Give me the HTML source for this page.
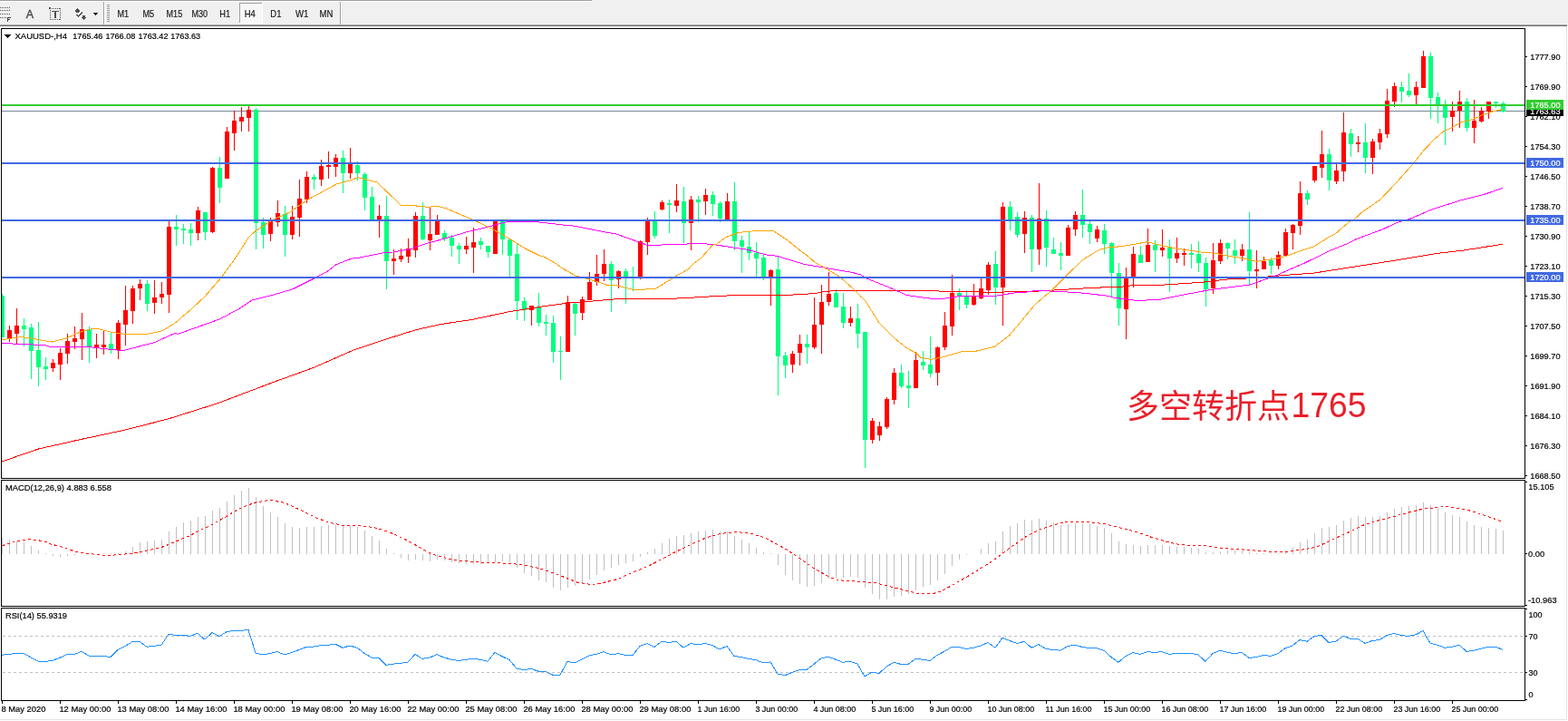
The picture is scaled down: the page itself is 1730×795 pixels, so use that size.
<!DOCTYPE html>
<html><head><meta charset="utf-8"><title>XAUUSD H4</title>
<style>
html,body{margin:0;padding:0;background:#fff;}
body{width:1730px;height:795px;overflow:hidden;}
svg{display:block;}
</style></head>
<body>
<svg width="1730" height="795" viewBox="0 0 1730 795" shape-rendering="crispEdges" font-family="'Liberation Sans', Arial, sans-serif" font-size="9.8" stroke-width="0.2">
<rect x="0" y="0" width="1730" height="795" fill="#ffffff"/>
<rect x="0" y="0" width="1730" height="27" fill="#f0f0f0"/>
<rect x="0" y="0" width="653" height="1" fill="#a0a0a0"/>
<rect x="0" y="1" width="653" height="1" fill="#ffffff"/>
<rect x="0" y="27" width="1729" height="1" fill="#a9a9a9"/>
<rect x="0" y="28" width="1729" height="1" fill="#6e6e6e"/>
<rect x="1729" y="27" width="1" height="2" fill="#f0f0f0"/>
<rect x="1728" y="29" width="1" height="765" fill="#e3e3e3"/>
<rect x="0" y="793" width="1729" height="1" fill="#e3e3e3"/>
<rect x="114" y="2" width="1" height="25" fill="#a0a0a0"/>
<rect x="115" y="2" width="1" height="25" fill="#ffffff"/>
<rect x="375" y="2" width="1" height="25" fill="#a0a0a0"/>
<rect x="376" y="2" width="1" height="25" fill="#ffffff"/>
<rect x="118" y="5" width="3" height="1" fill="#9a9a9a"/>
<rect x="118" y="7" width="3" height="1" fill="#9a9a9a"/>
<rect x="118" y="9" width="3" height="1" fill="#9a9a9a"/>
<rect x="118" y="11" width="3" height="1" fill="#9a9a9a"/>
<rect x="118" y="13" width="3" height="1" fill="#9a9a9a"/>
<rect x="118" y="15" width="3" height="1" fill="#9a9a9a"/>
<rect x="118" y="17" width="3" height="1" fill="#9a9a9a"/>
<rect x="118" y="19" width="3" height="1" fill="#9a9a9a"/>
<rect x="118" y="21" width="3" height="1" fill="#9a9a9a"/>
<rect x="118" y="23" width="3" height="1" fill="#9a9a9a"/>
<rect x="0" y="8" width="1" height="1" fill="#505050"/>
<rect x="2" y="8" width="1" height="1" fill="#505050"/>
<rect x="4" y="8" width="1" height="1" fill="#505050"/>
<rect x="6" y="8" width="1" height="1" fill="#505050"/>
<rect x="8" y="8" width="1" height="1" fill="#505050"/>
<rect x="10" y="8" width="1" height="1" fill="#505050"/>
<rect x="0" y="11" width="1" height="1" fill="#505050"/>
<rect x="2" y="11" width="1" height="1" fill="#505050"/>
<rect x="4" y="11" width="1" height="1" fill="#505050"/>
<rect x="6" y="11" width="1" height="1" fill="#505050"/>
<rect x="8" y="11" width="1" height="1" fill="#505050"/>
<rect x="10" y="11" width="1" height="1" fill="#505050"/>
<rect x="0" y="15" width="1" height="1" fill="#505050"/>
<rect x="2" y="15" width="1" height="1" fill="#505050"/>
<rect x="4" y="15" width="1" height="1" fill="#505050"/>
<rect x="6" y="15" width="1" height="1" fill="#505050"/>
<rect x="8" y="15" width="1" height="1" fill="#505050"/>
<rect x="10" y="15" width="1" height="1" fill="#505050"/>
<rect x="0" y="19" width="1" height="1" fill="#505050"/>
<rect x="2" y="19" width="1" height="1" fill="#505050"/>
<rect x="4" y="19" width="1" height="1" fill="#505050"/>
<rect x="6" y="19" width="1" height="1" fill="#505050"/>
<rect x="8" y="19" width="1" height="1" fill="#505050"/>
<rect x="10" y="19" width="1" height="1" fill="#505050"/>
<path d="M8 19.3 H12 V20.3 H9.2 V21.4 H11.3 V22.3 H9.2 V24 H8 Z" fill="#404040"/>
<text x="28.8" y="20" font-size="12.5" fill="#505050" stroke="#505050" stroke-width="0.45">A</text>
<rect x="55" y="9" width="1" height="1" fill="#505050"/>
<rect x="55" y="21" width="1" height="1" fill="#505050"/>
<rect x="57" y="9" width="1" height="1" fill="#505050"/>
<rect x="57" y="21" width="1" height="1" fill="#505050"/>
<rect x="59" y="9" width="1" height="1" fill="#505050"/>
<rect x="59" y="21" width="1" height="1" fill="#505050"/>
<rect x="61" y="9" width="1" height="1" fill="#505050"/>
<rect x="61" y="21" width="1" height="1" fill="#505050"/>
<rect x="63" y="9" width="1" height="1" fill="#505050"/>
<rect x="63" y="21" width="1" height="1" fill="#505050"/>
<rect x="65" y="9" width="1" height="1" fill="#505050"/>
<rect x="65" y="21" width="1" height="1" fill="#505050"/>
<rect x="55" y="9" width="1" height="1" fill="#505050"/>
<rect x="66" y="9" width="1" height="1" fill="#505050"/>
<rect x="55" y="11" width="1" height="1" fill="#505050"/>
<rect x="66" y="11" width="1" height="1" fill="#505050"/>
<rect x="55" y="13" width="1" height="1" fill="#505050"/>
<rect x="66" y="13" width="1" height="1" fill="#505050"/>
<rect x="55" y="15" width="1" height="1" fill="#505050"/>
<rect x="66" y="15" width="1" height="1" fill="#505050"/>
<rect x="55" y="17" width="1" height="1" fill="#505050"/>
<rect x="66" y="17" width="1" height="1" fill="#505050"/>
<rect x="55" y="19" width="1" height="1" fill="#505050"/>
<rect x="66" y="19" width="1" height="1" fill="#505050"/>
<rect x="55" y="21" width="1" height="1" fill="#505050"/>
<rect x="66" y="21" width="1" height="1" fill="#505050"/>
<rect x="54" y="8" width="2" height="2" fill="#505050"/>
<rect x="57" y="12" width="8" height="1.2" fill="#505050"/>
<rect x="60" y="12" width="2" height="8" fill="#505050"/>
<path d="M82.2 13 L85.5 9 L88.8 13 L87 13 L87 14 L84 14 L84 13 Z" fill="#505050"/>
<path d="M89.3 18.5 L91 18.5 L91 17.3 L94 17.3 L94 18.5 L95.8 18.5 L92.5 22 Z" fill="#505050"/>
<path d="M84.5 16 L86.5 18.5 L91 13.5" stroke="#505050" stroke-width="1.3" fill="none"/>
<path d="M103 14 L108.5 14 L105.75 17 Z" fill="#202020"/>
<rect x="265" y="4" width="24" height="21" fill="#f7f7f7"/>
<rect x="264" y="3" width="25" height="1" fill="#a0a0a0"/>
<rect x="264" y="3" width="1" height="22" fill="#a0a0a0"/>
<rect x="264" y="25" width="26" height="1" fill="#ffffff"/>
<rect x="289" y="3" width="1" height="23" fill="#ffffff"/>
<text x="129.5" y="19" textLength="12.7" lengthAdjust="spacingAndGlyphs" font-size="10.5" fill="#1a1a1a" stroke="#1a1a1a">M1</text>
<text x="157.5" y="19" textLength="12.7" lengthAdjust="spacingAndGlyphs" font-size="10.5" fill="#1a1a1a" stroke="#1a1a1a">M5</text>
<text x="183.5" y="19" textLength="17.7" lengthAdjust="spacingAndGlyphs" font-size="10.5" fill="#1a1a1a" stroke="#1a1a1a">M15</text>
<text x="211.5" y="19" textLength="17.6" lengthAdjust="spacingAndGlyphs" font-size="10.5" fill="#1a1a1a" stroke="#1a1a1a">M30</text>
<text x="242.3" y="19" textLength="11.8" lengthAdjust="spacingAndGlyphs" font-size="10.5" fill="#1a1a1a" stroke="#1a1a1a">H1</text>
<text x="269.7" y="19" textLength="12.1" lengthAdjust="spacingAndGlyphs" font-size="10.5" fill="#1a1a1a" stroke="#1a1a1a">H4</text>
<text x="298.3" y="19" textLength="12.1" lengthAdjust="spacingAndGlyphs" font-size="10.5" fill="#1a1a1a" stroke="#1a1a1a">D1</text>
<text x="326" y="19" textLength="14.5" lengthAdjust="spacingAndGlyphs" font-size="10.5" fill="#1a1a1a" stroke="#1a1a1a">W1</text>
<text x="352.6" y="19" textLength="14.8" lengthAdjust="spacingAndGlyphs" font-size="10.5" fill="#1a1a1a" stroke="#1a1a1a">MN</text>
<svg x="2" y="32" width="1680" height="495" viewBox="2 32 1680 495" overflow="hidden">
<rect x="2" y="122" width="1680" height="1" fill="#778899"/>
<rect x="2" y="324" width="1" height="48" fill="#00ff7f"/>
<rect x="0" y="326" width="5" height="46" fill="#00ff7f"/>
<rect x="10" y="359" width="1" height="18" fill="#ff0000"/>
<rect x="8" y="364" width="5" height="9" fill="#ff0000"/>
<rect x="18" y="340" width="1" height="40" fill="#ff0000"/>
<rect x="16" y="359" width="5" height="9" fill="#ff0000"/>
<rect x="26" y="351" width="1" height="31" fill="#00ff7f"/>
<rect x="24" y="359" width="5" height="4" fill="#00ff7f"/>
<rect x="34" y="357" width="1" height="61" fill="#00ff7f"/>
<rect x="32" y="361" width="5" height="26" fill="#00ff7f"/>
<rect x="42" y="355" width="1" height="71" fill="#00ff7f"/>
<rect x="40" y="386" width="5" height="19" fill="#00ff7f"/>
<rect x="50" y="394" width="1" height="25" fill="#00ff7f"/>
<rect x="48" y="404" width="5" height="3" fill="#00ff7f"/>
<rect x="58" y="396" width="1" height="14" fill="#ff0000"/>
<rect x="56" y="400" width="5" height="6" fill="#ff0000"/>
<rect x="66" y="384" width="1" height="35" fill="#ff0000"/>
<rect x="64" y="389" width="5" height="13" fill="#ff0000"/>
<rect x="74" y="368" width="1" height="33" fill="#ff0000"/>
<rect x="72" y="376" width="5" height="14" fill="#ff0000"/>
<rect x="82" y="360" width="1" height="25" fill="#ff0000"/>
<rect x="80" y="373" width="5" height="4" fill="#ff0000"/>
<rect x="90" y="345" width="1" height="52" fill="#ff0000"/>
<rect x="88" y="363" width="5" height="11" fill="#ff0000"/>
<rect x="98" y="360" width="1" height="40" fill="#00ff7f"/>
<rect x="96" y="363" width="5" height="19" fill="#00ff7f"/>
<rect x="106" y="368" width="1" height="27" fill="#ff0000"/>
<rect x="104" y="380" width="5" height="3" fill="#ff0000"/>
<rect x="114" y="364" width="1" height="27" fill="#ff0000"/>
<rect x="112" y="380" width="5" height="3" fill="#ff0000"/>
<rect x="122" y="367" width="1" height="23" fill="#00ff7f"/>
<rect x="120" y="379" width="5" height="6" fill="#00ff7f"/>
<rect x="130" y="353" width="1" height="43" fill="#ff0000"/>
<rect x="128" y="356" width="5" height="30" fill="#ff0000"/>
<rect x="138" y="315" width="1" height="66" fill="#ff0000"/>
<rect x="136" y="342" width="5" height="16" fill="#ff0000"/>
<rect x="146" y="315" width="1" height="42" fill="#ff0000"/>
<rect x="144" y="318" width="5" height="25" fill="#ff0000"/>
<rect x="154" y="308" width="1" height="23" fill="#ff0000"/>
<rect x="152" y="313" width="5" height="5" fill="#ff0000"/>
<rect x="162" y="309" width="1" height="34" fill="#00ff7f"/>
<rect x="160" y="313" width="5" height="22" fill="#00ff7f"/>
<rect x="170" y="309" width="1" height="37" fill="#ff0000"/>
<rect x="168" y="328" width="5" height="6" fill="#ff0000"/>
<rect x="178" y="311" width="1" height="24" fill="#ff0000"/>
<rect x="176" y="324" width="5" height="4" fill="#ff0000"/>
<rect x="186" y="244" width="1" height="101" fill="#ff0000"/>
<rect x="184" y="250" width="5" height="75" fill="#ff0000"/>
<rect x="194" y="237" width="1" height="34" fill="#00ff7f"/>
<rect x="192" y="250" width="5" height="3" fill="#00ff7f"/>
<rect x="202" y="247" width="1" height="22" fill="#00ff7f"/>
<rect x="200" y="252" width="5" height="2" fill="#00ff7f"/>
<rect x="210" y="246" width="1" height="25" fill="#00ff7f"/>
<rect x="208" y="253" width="5" height="4" fill="#00ff7f"/>
<rect x="218" y="228" width="1" height="37" fill="#ff0000"/>
<rect x="216" y="232" width="5" height="25" fill="#ff0000"/>
<rect x="226" y="234" width="1" height="31" fill="#00ff7f"/>
<rect x="224" y="234" width="5" height="22" fill="#00ff7f"/>
<rect x="234" y="184" width="1" height="73" fill="#ff0000"/>
<rect x="232" y="185" width="5" height="71" fill="#ff0000"/>
<rect x="242" y="173" width="1" height="51" fill="#00ff7f"/>
<rect x="240" y="185" width="5" height="22" fill="#00ff7f"/>
<rect x="250" y="140" width="1" height="57" fill="#ff0000"/>
<rect x="248" y="145" width="5" height="52" fill="#ff0000"/>
<rect x="258" y="122" width="1" height="44" fill="#ff0000"/>
<rect x="256" y="133" width="5" height="14" fill="#ff0000"/>
<rect x="266" y="118" width="1" height="27" fill="#ff0000"/>
<rect x="264" y="129" width="5" height="5" fill="#ff0000"/>
<rect x="274" y="117" width="1" height="28" fill="#ff0000"/>
<rect x="272" y="121" width="5" height="9" fill="#ff0000"/>
<rect x="282" y="119" width="1" height="156" fill="#00ff7f"/>
<rect x="280" y="121" width="5" height="125" fill="#00ff7f"/>
<rect x="290" y="240" width="1" height="34" fill="#00ff7f"/>
<rect x="288" y="245" width="5" height="14" fill="#00ff7f"/>
<rect x="298" y="240" width="1" height="26" fill="#ff0000"/>
<rect x="296" y="244" width="5" height="14" fill="#ff0000"/>
<rect x="306" y="221" width="1" height="29" fill="#ff0000"/>
<rect x="304" y="235" width="5" height="10" fill="#ff0000"/>
<rect x="314" y="227" width="1" height="56" fill="#00ff7f"/>
<rect x="312" y="236" width="5" height="23" fill="#00ff7f"/>
<rect x="322" y="227" width="1" height="37" fill="#ff0000"/>
<rect x="320" y="239" width="5" height="20" fill="#ff0000"/>
<rect x="330" y="198" width="1" height="63" fill="#ff0000"/>
<rect x="328" y="219" width="5" height="21" fill="#ff0000"/>
<rect x="338" y="189" width="1" height="35" fill="#ff0000"/>
<rect x="336" y="195" width="5" height="25" fill="#ff0000"/>
<rect x="346" y="192" width="1" height="17" fill="#00ff7f"/>
<rect x="344" y="195" width="5" height="3" fill="#00ff7f"/>
<rect x="354" y="176" width="1" height="29" fill="#ff0000"/>
<rect x="352" y="183" width="5" height="15" fill="#ff0000"/>
<rect x="362" y="167" width="1" height="30" fill="#ff0000"/>
<rect x="360" y="182" width="5" height="2" fill="#ff0000"/>
<rect x="370" y="170" width="1" height="25" fill="#ff0000"/>
<rect x="368" y="174" width="5" height="10" fill="#ff0000"/>
<rect x="378" y="166" width="1" height="47" fill="#00ff7f"/>
<rect x="376" y="174" width="5" height="17" fill="#00ff7f"/>
<rect x="386" y="163" width="1" height="34" fill="#ff0000"/>
<rect x="384" y="181" width="5" height="10" fill="#ff0000"/>
<rect x="394" y="178" width="1" height="21" fill="#00ff7f"/>
<rect x="392" y="182" width="5" height="9" fill="#00ff7f"/>
<rect x="402" y="190" width="1" height="42" fill="#00ff7f"/>
<rect x="400" y="192" width="5" height="26" fill="#00ff7f"/>
<rect x="410" y="206" width="1" height="36" fill="#00ff7f"/>
<rect x="408" y="217" width="5" height="25" fill="#00ff7f"/>
<rect x="418" y="226" width="1" height="36" fill="#ff0000"/>
<rect x="416" y="238" width="5" height="4" fill="#ff0000"/>
<rect x="426" y="216" width="1" height="103" fill="#00ff7f"/>
<rect x="424" y="238" width="5" height="50" fill="#00ff7f"/>
<rect x="434" y="275" width="1" height="28" fill="#ff0000"/>
<rect x="432" y="285" width="5" height="3" fill="#ff0000"/>
<rect x="442" y="274" width="1" height="15" fill="#ff0000"/>
<rect x="440" y="282" width="5" height="4" fill="#ff0000"/>
<rect x="450" y="263" width="1" height="27" fill="#ff0000"/>
<rect x="448" y="274" width="5" height="9" fill="#ff0000"/>
<rect x="458" y="234" width="1" height="50" fill="#ff0000"/>
<rect x="456" y="238" width="5" height="38" fill="#ff0000"/>
<rect x="466" y="223" width="1" height="42" fill="#00ff7f"/>
<rect x="464" y="238" width="5" height="26" fill="#00ff7f"/>
<rect x="474" y="229" width="1" height="47" fill="#ff0000"/>
<rect x="472" y="258" width="5" height="7" fill="#ff0000"/>
<rect x="482" y="237" width="1" height="22" fill="#ff0000"/>
<rect x="480" y="244" width="5" height="15" fill="#ff0000"/>
<rect x="490" y="254" width="1" height="12" fill="#00ff7f"/>
<rect x="488" y="257" width="5" height="6" fill="#00ff7f"/>
<rect x="498" y="259" width="1" height="24" fill="#00ff7f"/>
<rect x="496" y="262" width="5" height="9" fill="#00ff7f"/>
<rect x="506" y="268" width="1" height="23" fill="#00ff7f"/>
<rect x="504" y="271" width="5" height="4" fill="#00ff7f"/>
<rect x="514" y="261" width="1" height="19" fill="#ff0000"/>
<rect x="512" y="271" width="5" height="4" fill="#ff0000"/>
<rect x="522" y="251" width="1" height="50" fill="#ff0000"/>
<rect x="520" y="267" width="5" height="6" fill="#ff0000"/>
<rect x="530" y="262" width="1" height="13" fill="#00ff7f"/>
<rect x="528" y="266" width="5" height="4" fill="#00ff7f"/>
<rect x="538" y="271" width="1" height="13" fill="#00ff7f"/>
<rect x="536" y="271" width="5" height="7" fill="#00ff7f"/>
<rect x="546" y="243" width="1" height="37" fill="#ff0000"/>
<rect x="544" y="243" width="5" height="37" fill="#ff0000"/>
<rect x="554" y="243" width="1" height="38" fill="#00ff7f"/>
<rect x="552" y="243" width="5" height="21" fill="#00ff7f"/>
<rect x="562" y="263" width="1" height="42" fill="#00ff7f"/>
<rect x="560" y="264" width="5" height="18" fill="#00ff7f"/>
<rect x="570" y="268" width="1" height="85" fill="#00ff7f"/>
<rect x="568" y="280" width="5" height="52" fill="#00ff7f"/>
<rect x="578" y="328" width="1" height="26" fill="#00ff7f"/>
<rect x="576" y="332" width="5" height="10" fill="#00ff7f"/>
<rect x="586" y="337" width="1" height="22" fill="#ff0000"/>
<rect x="584" y="337" width="5" height="5" fill="#ff0000"/>
<rect x="594" y="323" width="1" height="37" fill="#00ff7f"/>
<rect x="592" y="338" width="5" height="18" fill="#00ff7f"/>
<rect x="602" y="347" width="1" height="23" fill="#00ff7f"/>
<rect x="600" y="355" width="5" height="2" fill="#00ff7f"/>
<rect x="610" y="348" width="1" height="52" fill="#00ff7f"/>
<rect x="608" y="356" width="5" height="32" fill="#00ff7f"/>
<rect x="618" y="371" width="1" height="48" fill="#00ff7f"/>
<rect x="616" y="387" width="5" height="1" fill="#00ff7f"/>
<rect x="626" y="326" width="1" height="62" fill="#ff0000"/>
<rect x="624" y="333" width="5" height="55" fill="#ff0000"/>
<rect x="634" y="333" width="1" height="37" fill="#00ff7f"/>
<rect x="632" y="335" width="5" height="11" fill="#00ff7f"/>
<rect x="642" y="327" width="1" height="26" fill="#ff0000"/>
<rect x="640" y="330" width="5" height="15" fill="#ff0000"/>
<rect x="650" y="300" width="1" height="31" fill="#ff0000"/>
<rect x="648" y="311" width="5" height="20" fill="#ff0000"/>
<rect x="658" y="281" width="1" height="34" fill="#ff0000"/>
<rect x="656" y="302" width="5" height="9" fill="#ff0000"/>
<rect x="666" y="275" width="1" height="35" fill="#ff0000"/>
<rect x="664" y="291" width="5" height="11" fill="#ff0000"/>
<rect x="674" y="288" width="1" height="56" fill="#00ff7f"/>
<rect x="672" y="291" width="5" height="18" fill="#00ff7f"/>
<rect x="682" y="298" width="1" height="20" fill="#ff0000"/>
<rect x="680" y="299" width="5" height="9" fill="#ff0000"/>
<rect x="690" y="296" width="1" height="39" fill="#00ff7f"/>
<rect x="688" y="299" width="5" height="6" fill="#00ff7f"/>
<rect x="698" y="294" width="1" height="27" fill="#00ff7f"/>
<rect x="696" y="305" width="5" height="1" fill="#00ff7f"/>
<rect x="706" y="265" width="1" height="43" fill="#ff0000"/>
<rect x="704" y="266" width="5" height="40" fill="#ff0000"/>
<rect x="714" y="240" width="1" height="41" fill="#ff0000"/>
<rect x="712" y="243" width="5" height="24" fill="#ff0000"/>
<rect x="722" y="233" width="1" height="30" fill="#00ff7f"/>
<rect x="720" y="243" width="5" height="17" fill="#00ff7f"/>
<rect x="730" y="221" width="1" height="11" fill="#ff0000"/>
<rect x="728" y="223" width="5" height="8" fill="#ff0000"/>
<rect x="738" y="220" width="1" height="37" fill="#00ff7f"/>
<rect x="736" y="224" width="5" height="2" fill="#00ff7f"/>
<rect x="746" y="203" width="1" height="31" fill="#ff0000"/>
<rect x="744" y="221" width="5" height="6" fill="#ff0000"/>
<rect x="754" y="206" width="1" height="62" fill="#00ff7f"/>
<rect x="752" y="222" width="5" height="24" fill="#00ff7f"/>
<rect x="762" y="216" width="1" height="60" fill="#ff0000"/>
<rect x="760" y="220" width="5" height="26" fill="#ff0000"/>
<rect x="770" y="216" width="1" height="29" fill="#00ff7f"/>
<rect x="768" y="220" width="5" height="3" fill="#00ff7f"/>
<rect x="778" y="208" width="1" height="29" fill="#ff0000"/>
<rect x="776" y="215" width="5" height="7" fill="#ff0000"/>
<rect x="786" y="211" width="1" height="27" fill="#00ff7f"/>
<rect x="784" y="215" width="5" height="10" fill="#00ff7f"/>
<rect x="794" y="222" width="1" height="23" fill="#00ff7f"/>
<rect x="792" y="224" width="5" height="17" fill="#00ff7f"/>
<rect x="802" y="213" width="1" height="29" fill="#ff0000"/>
<rect x="800" y="222" width="5" height="20" fill="#ff0000"/>
<rect x="810" y="201" width="1" height="75" fill="#00ff7f"/>
<rect x="808" y="222" width="5" height="44" fill="#00ff7f"/>
<rect x="818" y="260" width="1" height="41" fill="#00ff7f"/>
<rect x="816" y="265" width="5" height="7" fill="#00ff7f"/>
<rect x="826" y="256" width="1" height="31" fill="#00ff7f"/>
<rect x="824" y="272" width="5" height="7" fill="#00ff7f"/>
<rect x="834" y="267" width="1" height="38" fill="#00ff7f"/>
<rect x="832" y="279" width="5" height="6" fill="#00ff7f"/>
<rect x="842" y="280" width="1" height="29" fill="#00ff7f"/>
<rect x="840" y="284" width="5" height="21" fill="#00ff7f"/>
<rect x="850" y="297" width="1" height="40" fill="#ff0000"/>
<rect x="848" y="298" width="5" height="7" fill="#ff0000"/>
<rect x="858" y="282" width="1" height="154" fill="#00ff7f"/>
<rect x="856" y="297" width="5" height="96" fill="#00ff7f"/>
<rect x="866" y="388" width="1" height="29" fill="#00ff7f"/>
<rect x="864" y="392" width="5" height="11" fill="#00ff7f"/>
<rect x="874" y="387" width="1" height="24" fill="#ff0000"/>
<rect x="872" y="390" width="5" height="12" fill="#ff0000"/>
<rect x="882" y="369" width="1" height="34" fill="#ff0000"/>
<rect x="880" y="379" width="5" height="10" fill="#ff0000"/>
<rect x="890" y="369" width="1" height="32" fill="#00ff7f"/>
<rect x="888" y="379" width="5" height="4" fill="#00ff7f"/>
<rect x="898" y="328" width="1" height="57" fill="#ff0000"/>
<rect x="896" y="358" width="5" height="25" fill="#ff0000"/>
<rect x="906" y="314" width="1" height="76" fill="#ff0000"/>
<rect x="904" y="333" width="5" height="25" fill="#ff0000"/>
<rect x="914" y="300" width="1" height="37" fill="#ff0000"/>
<rect x="912" y="324" width="5" height="9" fill="#ff0000"/>
<rect x="922" y="319" width="1" height="20" fill="#00ff7f"/>
<rect x="920" y="323" width="5" height="16" fill="#00ff7f"/>
<rect x="930" y="323" width="1" height="39" fill="#00ff7f"/>
<rect x="928" y="338" width="5" height="18" fill="#00ff7f"/>
<rect x="938" y="338" width="1" height="22" fill="#ff0000"/>
<rect x="936" y="351" width="5" height="5" fill="#ff0000"/>
<rect x="946" y="335" width="1" height="49" fill="#00ff7f"/>
<rect x="944" y="351" width="5" height="17" fill="#00ff7f"/>
<rect x="954" y="366" width="1" height="150" fill="#00ff7f"/>
<rect x="952" y="366" width="5" height="119" fill="#00ff7f"/>
<rect x="962" y="461" width="1" height="28" fill="#ff0000"/>
<rect x="960" y="464" width="5" height="21" fill="#ff0000"/>
<rect x="970" y="465" width="1" height="21" fill="#ff0000"/>
<rect x="968" y="470" width="5" height="10" fill="#ff0000"/>
<rect x="978" y="438" width="1" height="35" fill="#ff0000"/>
<rect x="976" y="440" width="5" height="31" fill="#ff0000"/>
<rect x="986" y="406" width="1" height="40" fill="#ff0000"/>
<rect x="984" y="411" width="5" height="30" fill="#ff0000"/>
<rect x="994" y="402" width="1" height="26" fill="#00ff7f"/>
<rect x="992" y="411" width="5" height="15" fill="#00ff7f"/>
<rect x="1002" y="409" width="1" height="41" fill="#00ff7f"/>
<rect x="1000" y="425" width="5" height="3" fill="#00ff7f"/>
<rect x="1010" y="388" width="1" height="40" fill="#ff0000"/>
<rect x="1008" y="397" width="5" height="31" fill="#ff0000"/>
<rect x="1018" y="387" width="1" height="21" fill="#00ff7f"/>
<rect x="1016" y="399" width="5" height="4" fill="#00ff7f"/>
<rect x="1026" y="371" width="1" height="45" fill="#00ff7f"/>
<rect x="1024" y="402" width="5" height="10" fill="#00ff7f"/>
<rect x="1034" y="382" width="1" height="43" fill="#ff0000"/>
<rect x="1032" y="383" width="5" height="28" fill="#ff0000"/>
<rect x="1042" y="344" width="1" height="42" fill="#ff0000"/>
<rect x="1040" y="359" width="5" height="24" fill="#ff0000"/>
<rect x="1050" y="303" width="1" height="67" fill="#ff0000"/>
<rect x="1048" y="323" width="5" height="37" fill="#ff0000"/>
<rect x="1058" y="318" width="1" height="24" fill="#00ff7f"/>
<rect x="1056" y="323" width="5" height="4" fill="#00ff7f"/>
<rect x="1066" y="320" width="1" height="20" fill="#00ff7f"/>
<rect x="1064" y="327" width="5" height="9" fill="#00ff7f"/>
<rect x="1074" y="313" width="1" height="24" fill="#ff0000"/>
<rect x="1072" y="327" width="5" height="9" fill="#ff0000"/>
<rect x="1082" y="307" width="1" height="23" fill="#ff0000"/>
<rect x="1080" y="318" width="5" height="11" fill="#ff0000"/>
<rect x="1090" y="289" width="1" height="36" fill="#ff0000"/>
<rect x="1088" y="292" width="5" height="28" fill="#ff0000"/>
<rect x="1098" y="277" width="1" height="59" fill="#00ff7f"/>
<rect x="1096" y="291" width="5" height="26" fill="#00ff7f"/>
<rect x="1106" y="223" width="1" height="136" fill="#ff0000"/>
<rect x="1104" y="228" width="5" height="89" fill="#ff0000"/>
<rect x="1114" y="222" width="1" height="32" fill="#00ff7f"/>
<rect x="1112" y="228" width="5" height="14" fill="#00ff7f"/>
<rect x="1122" y="234" width="1" height="28" fill="#00ff7f"/>
<rect x="1120" y="239" width="5" height="20" fill="#00ff7f"/>
<rect x="1130" y="233" width="1" height="46" fill="#ff0000"/>
<rect x="1128" y="240" width="5" height="18" fill="#ff0000"/>
<rect x="1138" y="237" width="1" height="63" fill="#00ff7f"/>
<rect x="1136" y="240" width="5" height="35" fill="#00ff7f"/>
<rect x="1146" y="202" width="1" height="90" fill="#ff0000"/>
<rect x="1144" y="241" width="5" height="34" fill="#ff0000"/>
<rect x="1154" y="232" width="1" height="62" fill="#00ff7f"/>
<rect x="1152" y="241" width="5" height="32" fill="#00ff7f"/>
<rect x="1162" y="262" width="1" height="18" fill="#00ff7f"/>
<rect x="1160" y="275" width="5" height="5" fill="#00ff7f"/>
<rect x="1170" y="267" width="1" height="31" fill="#00ff7f"/>
<rect x="1168" y="279" width="5" height="3" fill="#00ff7f"/>
<rect x="1178" y="248" width="1" height="34" fill="#ff0000"/>
<rect x="1176" y="251" width="5" height="31" fill="#ff0000"/>
<rect x="1186" y="233" width="1" height="27" fill="#ff0000"/>
<rect x="1184" y="237" width="5" height="16" fill="#ff0000"/>
<rect x="1194" y="209" width="1" height="53" fill="#00ff7f"/>
<rect x="1192" y="237" width="5" height="11" fill="#00ff7f"/>
<rect x="1202" y="244" width="1" height="25" fill="#00ff7f"/>
<rect x="1200" y="247" width="5" height="9" fill="#00ff7f"/>
<rect x="1210" y="249" width="1" height="18" fill="#ff0000"/>
<rect x="1208" y="253" width="5" height="10" fill="#ff0000"/>
<rect x="1218" y="247" width="1" height="33" fill="#00ff7f"/>
<rect x="1216" y="254" width="5" height="15" fill="#00ff7f"/>
<rect x="1226" y="267" width="1" height="60" fill="#00ff7f"/>
<rect x="1224" y="268" width="5" height="33" fill="#00ff7f"/>
<rect x="1234" y="290" width="1" height="69" fill="#00ff7f"/>
<rect x="1232" y="301" width="5" height="39" fill="#00ff7f"/>
<rect x="1242" y="295" width="1" height="79" fill="#ff0000"/>
<rect x="1240" y="306" width="5" height="35" fill="#ff0000"/>
<rect x="1250" y="272" width="1" height="45" fill="#ff0000"/>
<rect x="1248" y="280" width="5" height="25" fill="#ff0000"/>
<rect x="1258" y="271" width="1" height="19" fill="#00ff7f"/>
<rect x="1256" y="281" width="5" height="9" fill="#00ff7f"/>
<rect x="1266" y="252" width="1" height="37" fill="#ff0000"/>
<rect x="1264" y="270" width="5" height="19" fill="#ff0000"/>
<rect x="1274" y="265" width="1" height="35" fill="#00ff7f"/>
<rect x="1272" y="270" width="5" height="6" fill="#00ff7f"/>
<rect x="1282" y="253" width="1" height="30" fill="#ff0000"/>
<rect x="1280" y="273" width="5" height="3" fill="#ff0000"/>
<rect x="1290" y="264" width="1" height="58" fill="#00ff7f"/>
<rect x="1288" y="272" width="5" height="13" fill="#00ff7f"/>
<rect x="1298" y="262" width="1" height="28" fill="#ff0000"/>
<rect x="1296" y="279" width="5" height="6" fill="#ff0000"/>
<rect x="1306" y="274" width="1" height="19" fill="#ff0000"/>
<rect x="1304" y="279" width="5" height="2" fill="#ff0000"/>
<rect x="1314" y="269" width="1" height="27" fill="#00ff7f"/>
<rect x="1312" y="279" width="5" height="2" fill="#00ff7f"/>
<rect x="1322" y="266" width="1" height="34" fill="#00ff7f"/>
<rect x="1320" y="280" width="5" height="10" fill="#00ff7f"/>
<rect x="1330" y="284" width="1" height="54" fill="#00ff7f"/>
<rect x="1328" y="290" width="5" height="29" fill="#00ff7f"/>
<rect x="1338" y="268" width="1" height="56" fill="#ff0000"/>
<rect x="1336" y="287" width="5" height="31" fill="#ff0000"/>
<rect x="1346" y="264" width="1" height="27" fill="#ff0000"/>
<rect x="1344" y="268" width="5" height="20" fill="#ff0000"/>
<rect x="1354" y="267" width="1" height="19" fill="#00ff7f"/>
<rect x="1352" y="268" width="5" height="6" fill="#00ff7f"/>
<rect x="1362" y="264" width="1" height="27" fill="#00ff7f"/>
<rect x="1360" y="276" width="5" height="6" fill="#00ff7f"/>
<rect x="1370" y="269" width="1" height="19" fill="#ff0000"/>
<rect x="1368" y="275" width="5" height="7" fill="#ff0000"/>
<rect x="1378" y="234" width="1" height="80" fill="#00ff7f"/>
<rect x="1376" y="275" width="5" height="24" fill="#00ff7f"/>
<rect x="1386" y="276" width="1" height="42" fill="#ff0000"/>
<rect x="1384" y="297" width="5" height="2" fill="#ff0000"/>
<rect x="1394" y="283" width="1" height="14" fill="#ff0000"/>
<rect x="1392" y="288" width="5" height="9" fill="#ff0000"/>
<rect x="1402" y="284" width="1" height="18" fill="#00ff7f"/>
<rect x="1400" y="287" width="5" height="6" fill="#00ff7f"/>
<rect x="1410" y="277" width="1" height="20" fill="#ff0000"/>
<rect x="1408" y="281" width="5" height="12" fill="#ff0000"/>
<rect x="1418" y="252" width="1" height="30" fill="#ff0000"/>
<rect x="1416" y="256" width="5" height="26" fill="#ff0000"/>
<rect x="1426" y="247" width="1" height="28" fill="#ff0000"/>
<rect x="1424" y="248" width="5" height="9" fill="#ff0000"/>
<rect x="1434" y="200" width="1" height="59" fill="#ff0000"/>
<rect x="1432" y="213" width="5" height="36" fill="#ff0000"/>
<rect x="1442" y="210" width="1" height="16" fill="#00ff7f"/>
<rect x="1440" y="213" width="5" height="7" fill="#00ff7f"/>
<rect x="1450" y="183" width="1" height="18" fill="#ff0000"/>
<rect x="1448" y="183" width="5" height="16" fill="#ff0000"/>
<rect x="1458" y="144" width="1" height="52" fill="#ff0000"/>
<rect x="1456" y="170" width="5" height="15" fill="#ff0000"/>
<rect x="1466" y="164" width="1" height="46" fill="#00ff7f"/>
<rect x="1464" y="170" width="5" height="29" fill="#00ff7f"/>
<rect x="1474" y="181" width="1" height="22" fill="#ff0000"/>
<rect x="1472" y="188" width="5" height="12" fill="#ff0000"/>
<rect x="1482" y="124" width="1" height="76" fill="#ff0000"/>
<rect x="1480" y="146" width="5" height="43" fill="#ff0000"/>
<rect x="1490" y="142" width="1" height="31" fill="#00ff7f"/>
<rect x="1488" y="147" width="5" height="12" fill="#00ff7f"/>
<rect x="1498" y="150" width="1" height="18" fill="#ff0000"/>
<rect x="1496" y="157" width="5" height="2" fill="#ff0000"/>
<rect x="1506" y="136" width="1" height="55" fill="#00ff7f"/>
<rect x="1504" y="157" width="5" height="17" fill="#00ff7f"/>
<rect x="1514" y="153" width="1" height="39" fill="#ff0000"/>
<rect x="1512" y="156" width="5" height="18" fill="#ff0000"/>
<rect x="1522" y="142" width="1" height="23" fill="#ff0000"/>
<rect x="1520" y="147" width="5" height="10" fill="#ff0000"/>
<rect x="1530" y="98" width="1" height="54" fill="#ff0000"/>
<rect x="1528" y="111" width="5" height="37" fill="#ff0000"/>
<rect x="1538" y="91" width="1" height="27" fill="#ff0000"/>
<rect x="1536" y="95" width="5" height="17" fill="#ff0000"/>
<rect x="1546" y="90" width="1" height="23" fill="#00ff7f"/>
<rect x="1544" y="96" width="5" height="5" fill="#00ff7f"/>
<rect x="1554" y="81" width="1" height="26" fill="#00ff7f"/>
<rect x="1552" y="100" width="5" height="5" fill="#00ff7f"/>
<rect x="1562" y="90" width="1" height="25" fill="#ff0000"/>
<rect x="1560" y="96" width="5" height="9" fill="#ff0000"/>
<rect x="1570" y="56" width="1" height="41" fill="#ff0000"/>
<rect x="1568" y="62" width="5" height="35" fill="#ff0000"/>
<rect x="1578" y="58" width="1" height="73" fill="#00ff7f"/>
<rect x="1576" y="62" width="5" height="46" fill="#00ff7f"/>
<rect x="1586" y="102" width="1" height="34" fill="#00ff7f"/>
<rect x="1584" y="107" width="5" height="8" fill="#00ff7f"/>
<rect x="1594" y="110" width="1" height="50" fill="#00ff7f"/>
<rect x="1592" y="115" width="5" height="15" fill="#00ff7f"/>
<rect x="1602" y="112" width="1" height="33" fill="#ff0000"/>
<rect x="1600" y="122" width="5" height="7" fill="#ff0000"/>
<rect x="1610" y="100" width="1" height="41" fill="#ff0000"/>
<rect x="1608" y="112" width="5" height="10" fill="#ff0000"/>
<rect x="1618" y="108" width="1" height="37" fill="#00ff7f"/>
<rect x="1616" y="112" width="5" height="29" fill="#00ff7f"/>
<rect x="1626" y="110" width="1" height="48" fill="#ff0000"/>
<rect x="1624" y="133" width="5" height="8" fill="#ff0000"/>
<rect x="1634" y="118" width="1" height="17" fill="#ff0000"/>
<rect x="1632" y="122" width="5" height="12" fill="#ff0000"/>
<rect x="1642" y="112" width="1" height="19" fill="#ff0000"/>
<rect x="1640" y="112" width="5" height="11" fill="#ff0000"/>
<rect x="1650" y="112" width="1" height="7" fill="#00ff7f"/>
<rect x="1648" y="112" width="5" height="2" fill="#00ff7f"/>
<rect x="1658" y="112" width="1" height="12" fill="#00ff7f"/>
<rect x="1656" y="114" width="5" height="9" fill="#00ff7f"/>
<polyline points="2.4,508.9 42.1,495.1 90.2,484.3 135.3,474.7 186.4,461.7 240.5,444.6 300.6,421.8 345.7,405.5 390.7,385.7 426.8,373.7 459.9,363.4 486.9,357.4 520.0,352.6 561.3,343.8 600.0,337.7 626.0,334.2 652.0,332.2 678.0,329.9 721.4,329.9 756.1,328.7 790.7,326.4 825.4,325.2 860.1,325.5 870.0,325.3 900.0,323.5 910.4,321.2 940.0,320.2 1030.6,320.9 1069.8,321.7 1106.0,322.5 1110.6,321.4 1140.0,321.4 1169.2,319.6 1204.4,317.4 1238.0,316.1 1247.0,315.0 1281.0,314.3 1306.5,312.6 1326.0,311.3 1356.2,307.7 1371.3,307.3 1416.6,303.5 1450.2,301.0 1495.5,293.9 1540.8,286.9 1586.1,279.4 1616.3,275.8 1657.8,269.3" fill="none" stroke="#ff0000" stroke-width="1" />
<polyline points="2.0,378.5 49.0,380.5 54.1,382.1 98.0,382.6 122.7,385.4 135.3,386.6 139.0,385.9 163.6,379.3 168.3,378.5 194.0,367.0 195.4,368.6 240.5,352.6 246.3,350.0 264.5,340.0 278.5,330.8 302.7,324.8 322.8,318.8 351.0,304.7 360.3,300.0 371.1,291.6 386.0,285.8 390.0,284.6 396.9,284.0 425.2,278.3 433.8,278.0 453.5,274.5 457.7,272.8 472.3,268.0 482.9,265.2 508.0,257.9 516.0,255.4 520.0,254.4 524.0,253.9 561.3,244.1 590.8,244.5 600.0,245.5 620.0,247.9 634.7,249.3 669.4,256.2 680.0,258.0 704.0,266.6 714.4,270.4 720.9,270.3 756.1,269.2 764.5,268.5 773.4,268.4 790.7,270.1 807.9,272.8 825.4,275.3 829.6,276.7 846.0,281.0 854.0,281.8 860.1,283.1 886.2,291.1 900.0,293.5 926.5,298.1 940.0,300.3 950.0,303.1 955.1,306.6 970.2,312.6 985.3,318.7 1000.4,325.5 1015.5,327.7 1030.6,329.5 1045.7,328.9 1060.8,326.2 1068.2,326.3 1091.0,326.2 1098.4,326.3 1106.0,325.0 1118.5,323.1 1121.1,322.5 1133.2,322.0 1142.8,320.4 1169.2,321.4 1195.6,323.2 1222.0,326.2 1230.0,328.6 1238.0,329.2 1255.5,331.6 1281.0,330.0 1306.5,324.9 1326.0,321.3 1334.0,319.8 1348.6,317.8 1378.8,314.1 1393.9,308.8 1409.0,303.5 1420.0,298.4 1430.0,294.1 1439.6,290.0 1466.0,276.9 1488.1,268.1 1495.5,264.0 1526.0,252.7 1540.8,245.6 1555.9,241.3 1578.5,231.5 1608.7,221.7 1638.9,213.9 1658.0,207.4" fill="none" stroke="#ff00ff" stroke-width="1" />
<polyline points="2.0,375.0 16.4,372.3 24.0,371.6 32.7,372.8 57.2,377.1 73.6,372.8 90.0,365.4 102.2,362.5 106.3,362.1 122.7,366.2 132.3,367.7 139.0,368.4 159.0,369.0 176.7,365.4 180.3,364.0 194.0,355.6 200.1,350.0 210.4,341.5 226.2,326.8 244.3,305.7 258.4,286.6 274.5,261.4 282.0,254.7 294.6,246.3 300.9,242.5 319.7,234.0 330.8,226.2 338.6,220.8 348.0,215.5 357.5,210.4 371.1,203.1 386.0,199.0 395.0,195.8 415.7,200.9 430.8,215.1 442.2,226.4 453.5,226.4 472.3,228.3 482.0,227.4 493.0,230.0 516.0,240.0 520.0,241.4 543.2,252.5 561.3,262.7 579.4,274.0 595.3,281.9 600.0,283.1 612.0,289.8 620.0,295.5 634.7,303.9 659.2,310.6 669.4,314.3 678.0,314.3 698.8,319.5 723.1,318.6 745.7,304.4 760.0,296.5 764.5,291.2 773.4,284.8 786.2,270.2 790.7,269.2 800.6,261.8 808.1,258.8 815.1,256.5 825.4,255.3 829.6,255.0 849.7,254.5 854.0,255.0 868.8,264.9 886.1,278.8 888.3,280.0 900.0,290.0 906.4,293.1 926.5,305.2 940.0,317.2 950.0,327.3 955.1,332.3 970.2,356.4 985.3,371.5 989.8,375.4 1000.4,383.6 1011.3,389.8 1015.5,394.2 1027.5,396.4 1038.1,394.2 1046.0,392.1 1060.8,387.8 1075.8,387.4 1097.0,382.4 1113.6,370.0 1128.7,351.9 1142.0,335.8 1160.4,320.0 1178.0,302.4 1195.6,285.7 1213.2,275.1 1225.5,272.1 1230.0,272.5 1247.0,270.1 1265.7,266.7 1281.0,270.5 1298.0,274.2 1315.0,276.4 1326.0,278.1 1341.1,279.3 1356.2,282.4 1371.3,284.6 1386.4,288.4 1401.5,286.1 1416.6,283.1 1422.0,281.3 1444.0,273.6 1450.2,271.5 1466.0,261.5 1472.8,258.2 1488.1,245.0 1494.0,242.1 1503.0,233.8 1522.7,220.2 1540.8,201.3 1546.3,195.0 1560.0,179.5 1570.9,165.8 1581.8,154.3 1592.8,144.8 1596.0,143.5 1604.0,139.5 1612.1,134.6 1620.2,133.0 1628.2,130.2 1636.3,126.6 1644.0,123.8 1658.0,120.4" fill="none" stroke="#ffa500" stroke-width="1" />
<rect x="2" y="115" width="1680" height="2" fill="#32cd32"/>
<rect x="2" y="179" width="1680" height="2" fill="#4169e1"/>
<rect x="2" y="242" width="1680" height="2" fill="#4169e1"/>
<rect x="2" y="305" width="1680" height="2" fill="#4169e1"/>
<text x="1243" y="461" font-size="36" fill="#e8202a" font-family="'Liberation Sans', 'Noto Sans CJK SC', sans-serif">多空转折点</text>
<text x="1424.6" y="460" font-size="38.3" fill="#e8202a" font-family="'Liberation Sans', sans-serif" textLength="83" lengthAdjust="spacingAndGlyphs">1765</text>
</svg>
<rect x="1" y="31" width="1682" height="1" fill="#000"/>
<rect x="1" y="527" width="1682" height="1" fill="#000"/>
<rect x="1" y="31" width="1" height="497" fill="#000"/>
<rect x="1682" y="31" width="1" height="497" fill="#000"/>
<path d="M5 38 L12 38 L8.5 42 Z" fill="#000"/>
<text x="16.5" y="43" textLength="57.5" lengthAdjust="spacingAndGlyphs" stroke="#000">XAUUSD-,H4</text>
<text x="80.3" y="43" textLength="33" lengthAdjust="spacingAndGlyphs" stroke="#000">1765.46</text>
<text x="116.4" y="43" textLength="33" lengthAdjust="spacingAndGlyphs" stroke="#000">1766.08</text>
<text x="152.5" y="43" textLength="33" lengthAdjust="spacingAndGlyphs" stroke="#000">1763.42</text>
<text x="188.2" y="43" textLength="33" lengthAdjust="spacingAndGlyphs" stroke="#000">1763.63</text>
<rect x="1683" y="62" width="2" height="1" fill="#000"/>
<text x="1688.3" y="66" textLength="33.2" lengthAdjust="spacingAndGlyphs" stroke="#000">1777.90</text>
<rect x="1683" y="95" width="2" height="1" fill="#000"/>
<text x="1688.3" y="99" textLength="33.2" lengthAdjust="spacingAndGlyphs" stroke="#000">1769.90</text>
<rect x="1683" y="128" width="2" height="1" fill="#000"/>
<text x="1688.3" y="132" textLength="33.2" lengthAdjust="spacingAndGlyphs" stroke="#000">1762.10</text>
<rect x="1683" y="161" width="2" height="1" fill="#000"/>
<text x="1688.3" y="165" textLength="33.2" lengthAdjust="spacingAndGlyphs" stroke="#000">1754.30</text>
<rect x="1683" y="194" width="2" height="1" fill="#000"/>
<text x="1688.3" y="198" textLength="33.2" lengthAdjust="spacingAndGlyphs" stroke="#000">1746.50</text>
<rect x="1683" y="227" width="2" height="1" fill="#000"/>
<text x="1688.3" y="231" textLength="33.2" lengthAdjust="spacingAndGlyphs" stroke="#000">1738.70</text>
<rect x="1683" y="260" width="2" height="1" fill="#000"/>
<text x="1688.3" y="264" textLength="33.2" lengthAdjust="spacingAndGlyphs" stroke="#000">1730.90</text>
<rect x="1683" y="293" width="2" height="1" fill="#000"/>
<text x="1688.3" y="297" textLength="33.2" lengthAdjust="spacingAndGlyphs" stroke="#000">1723.10</text>
<rect x="1683" y="326" width="2" height="1" fill="#000"/>
<text x="1688.3" y="330" textLength="33.2" lengthAdjust="spacingAndGlyphs" stroke="#000">1715.30</text>
<rect x="1683" y="359" width="2" height="1" fill="#000"/>
<text x="1688.3" y="363" textLength="33.2" lengthAdjust="spacingAndGlyphs" stroke="#000">1707.50</text>
<rect x="1683" y="392" width="2" height="1" fill="#000"/>
<text x="1688.3" y="396" textLength="33.2" lengthAdjust="spacingAndGlyphs" stroke="#000">1699.70</text>
<rect x="1683" y="425" width="2" height="1" fill="#000"/>
<text x="1688.3" y="429" textLength="33.2" lengthAdjust="spacingAndGlyphs" stroke="#000">1691.90</text>
<rect x="1683" y="458" width="2" height="1" fill="#000"/>
<text x="1688.3" y="462" textLength="33.2" lengthAdjust="spacingAndGlyphs" stroke="#000">1684.10</text>
<rect x="1683" y="491" width="2" height="1" fill="#000"/>
<text x="1688.3" y="495" textLength="33.2" lengthAdjust="spacingAndGlyphs" stroke="#000">1676.30</text>
<rect x="1683" y="524" width="2" height="1" fill="#000"/>
<text x="1688.3" y="528" textLength="33.2" lengthAdjust="spacingAndGlyphs" stroke="#000">1668.50</text>
<rect x="1684" y="117" width="41" height="11" fill="#000000"/>
<text x="1688.3" y="126" textLength="33.2" lengthAdjust="spacingAndGlyphs" fill="#fff" stroke="#fff">1763.63</text>
<rect x="1684" y="110" width="41" height="11" fill="#32cd32"/>
<text x="1688.3" y="119" textLength="33.2" lengthAdjust="spacingAndGlyphs" fill="#fff" stroke="#fff">1765.00</text>
<rect x="1684" y="174" width="41" height="11" fill="#4169e1"/>
<text x="1688.3" y="183" textLength="33.2" lengthAdjust="spacingAndGlyphs" fill="#fff" stroke="#fff">1750.00</text>
<rect x="1684" y="237" width="41" height="11" fill="#4169e1"/>
<text x="1688.3" y="246" textLength="33.2" lengthAdjust="spacingAndGlyphs" fill="#fff" stroke="#fff">1735.00</text>
<rect x="1684" y="300" width="41" height="11" fill="#4169e1"/>
<text x="1688.3" y="309" textLength="33.2" lengthAdjust="spacingAndGlyphs" fill="#fff" stroke="#fff">1720.00</text>
<rect x="1" y="529" width="1682" height="1" fill="#000"/>
<rect x="1" y="668" width="1682" height="1" fill="#000"/>
<rect x="1" y="529" width="1" height="140" fill="#000"/>
<rect x="1682" y="529" width="1" height="140" fill="#000"/>
<svg x="2" y="530" width="1680" height="138" viewBox="2 530 1680 138" overflow="hidden">
<rect x="2" y="593" width="1" height="18" fill="#c0c0c0"/>
<rect x="10" y="595" width="1" height="16" fill="#c0c0c0"/>
<rect x="18" y="597" width="1" height="14" fill="#c0c0c0"/>
<rect x="26" y="598" width="1" height="13" fill="#c0c0c0"/>
<rect x="34" y="602" width="1" height="9" fill="#c0c0c0"/>
<rect x="42" y="607" width="1" height="4" fill="#c0c0c0"/>
<rect x="50" y="610" width="1" height="1" fill="#c0c0c0"/>
<rect x="58" y="611" width="1" height="2" fill="#c0c0c0"/>
<rect x="66" y="611" width="1" height="3" fill="#c0c0c0"/>
<rect x="74" y="611" width="1" height="2" fill="#c0c0c0"/>
<rect x="82" y="611" width="1" height="1" fill="#c0c0c0"/>
<rect x="114" y="610" width="1" height="1" fill="#c0c0c0"/>
<rect x="122" y="610" width="1" height="1" fill="#c0c0c0"/>
<rect x="130" y="610" width="1" height="1" fill="#c0c0c0"/>
<rect x="138" y="608" width="1" height="3" fill="#c0c0c0"/>
<rect x="146" y="603" width="1" height="8" fill="#c0c0c0"/>
<rect x="154" y="598" width="1" height="13" fill="#c0c0c0"/>
<rect x="162" y="597" width="1" height="14" fill="#c0c0c0"/>
<rect x="170" y="596" width="1" height="15" fill="#c0c0c0"/>
<rect x="178" y="595" width="1" height="16" fill="#c0c0c0"/>
<rect x="186" y="586" width="1" height="25" fill="#c0c0c0"/>
<rect x="194" y="581" width="1" height="30" fill="#c0c0c0"/>
<rect x="202" y="576" width="1" height="35" fill="#c0c0c0"/>
<rect x="210" y="574" width="1" height="37" fill="#c0c0c0"/>
<rect x="218" y="570" width="1" height="41" fill="#c0c0c0"/>
<rect x="226" y="569" width="1" height="42" fill="#c0c0c0"/>
<rect x="234" y="563" width="1" height="48" fill="#c0c0c0"/>
<rect x="242" y="560" width="1" height="51" fill="#c0c0c0"/>
<rect x="250" y="553" width="1" height="58" fill="#c0c0c0"/>
<rect x="258" y="546" width="1" height="65" fill="#c0c0c0"/>
<rect x="266" y="541" width="1" height="70" fill="#c0c0c0"/>
<rect x="274" y="538" width="1" height="73" fill="#c0c0c0"/>
<rect x="282" y="548" width="1" height="63" fill="#c0c0c0"/>
<rect x="290" y="558" width="1" height="53" fill="#c0c0c0"/>
<rect x="298" y="565" width="1" height="46" fill="#c0c0c0"/>
<rect x="306" y="570" width="1" height="41" fill="#c0c0c0"/>
<rect x="314" y="577" width="1" height="34" fill="#c0c0c0"/>
<rect x="322" y="581" width="1" height="30" fill="#c0c0c0"/>
<rect x="330" y="582" width="1" height="29" fill="#c0c0c0"/>
<rect x="338" y="581" width="1" height="30" fill="#c0c0c0"/>
<rect x="346" y="581" width="1" height="30" fill="#c0c0c0"/>
<rect x="354" y="580" width="1" height="31" fill="#c0c0c0"/>
<rect x="362" y="579" width="1" height="32" fill="#c0c0c0"/>
<rect x="370" y="579" width="1" height="32" fill="#c0c0c0"/>
<rect x="378" y="580" width="1" height="31" fill="#c0c0c0"/>
<rect x="386" y="580" width="1" height="31" fill="#c0c0c0"/>
<rect x="394" y="581" width="1" height="30" fill="#c0c0c0"/>
<rect x="402" y="585" width="1" height="26" fill="#c0c0c0"/>
<rect x="410" y="591" width="1" height="20" fill="#c0c0c0"/>
<rect x="418" y="596" width="1" height="15" fill="#c0c0c0"/>
<rect x="426" y="605" width="1" height="6" fill="#c0c0c0"/>
<rect x="434" y="610" width="1" height="1" fill="#c0c0c0"/>
<rect x="442" y="611" width="1" height="4" fill="#c0c0c0"/>
<rect x="450" y="611" width="1" height="7" fill="#c0c0c0"/>
<rect x="458" y="611" width="1" height="6" fill="#c0c0c0"/>
<rect x="466" y="611" width="1" height="7" fill="#c0c0c0"/>
<rect x="474" y="611" width="1" height="8" fill="#c0c0c0"/>
<rect x="482" y="611" width="1" height="6" fill="#c0c0c0"/>
<rect x="490" y="611" width="1" height="7" fill="#c0c0c0"/>
<rect x="498" y="611" width="1" height="9" fill="#c0c0c0"/>
<rect x="506" y="611" width="1" height="10" fill="#c0c0c0"/>
<rect x="514" y="611" width="1" height="11" fill="#c0c0c0"/>
<rect x="522" y="611" width="1" height="11" fill="#c0c0c0"/>
<rect x="530" y="611" width="1" height="11" fill="#c0c0c0"/>
<rect x="538" y="611" width="1" height="10" fill="#c0c0c0"/>
<rect x="546" y="611" width="1" height="9" fill="#c0c0c0"/>
<rect x="554" y="611" width="1" height="8" fill="#c0c0c0"/>
<rect x="562" y="611" width="1" height="9" fill="#c0c0c0"/>
<rect x="570" y="611" width="1" height="15" fill="#c0c0c0"/>
<rect x="578" y="611" width="1" height="21" fill="#c0c0c0"/>
<rect x="586" y="611" width="1" height="24" fill="#c0c0c0"/>
<rect x="594" y="611" width="1" height="29" fill="#c0c0c0"/>
<rect x="602" y="611" width="1" height="31" fill="#c0c0c0"/>
<rect x="610" y="611" width="1" height="37" fill="#c0c0c0"/>
<rect x="618" y="611" width="1" height="40" fill="#c0c0c0"/>
<rect x="626" y="611" width="1" height="37" fill="#c0c0c0"/>
<rect x="634" y="611" width="1" height="35" fill="#c0c0c0"/>
<rect x="642" y="611" width="1" height="33" fill="#c0c0c0"/>
<rect x="650" y="611" width="1" height="28" fill="#c0c0c0"/>
<rect x="658" y="611" width="1" height="23" fill="#c0c0c0"/>
<rect x="666" y="611" width="1" height="18" fill="#c0c0c0"/>
<rect x="674" y="611" width="1" height="15" fill="#c0c0c0"/>
<rect x="682" y="611" width="1" height="12" fill="#c0c0c0"/>
<rect x="690" y="611" width="1" height="10" fill="#c0c0c0"/>
<rect x="698" y="611" width="1" height="8" fill="#c0c0c0"/>
<rect x="706" y="611" width="1" height="3" fill="#c0c0c0"/>
<rect x="714" y="609" width="1" height="2" fill="#c0c0c0"/>
<rect x="722" y="605" width="1" height="6" fill="#c0c0c0"/>
<rect x="730" y="599" width="1" height="12" fill="#c0c0c0"/>
<rect x="738" y="594" width="1" height="17" fill="#c0c0c0"/>
<rect x="746" y="591" width="1" height="20" fill="#c0c0c0"/>
<rect x="754" y="590" width="1" height="21" fill="#c0c0c0"/>
<rect x="762" y="588" width="1" height="23" fill="#c0c0c0"/>
<rect x="770" y="586" width="1" height="25" fill="#c0c0c0"/>
<rect x="778" y="585" width="1" height="26" fill="#c0c0c0"/>
<rect x="786" y="584" width="1" height="27" fill="#c0c0c0"/>
<rect x="794" y="586" width="1" height="25" fill="#c0c0c0"/>
<rect x="802" y="586" width="1" height="25" fill="#c0c0c0"/>
<rect x="810" y="591" width="1" height="20" fill="#c0c0c0"/>
<rect x="818" y="595" width="1" height="16" fill="#c0c0c0"/>
<rect x="826" y="599" width="1" height="12" fill="#c0c0c0"/>
<rect x="834" y="604" width="1" height="7" fill="#c0c0c0"/>
<rect x="842" y="609" width="1" height="2" fill="#c0c0c0"/>
<rect x="850" y="610" width="1" height="1" fill="#c0c0c0"/>
<rect x="858" y="611" width="1" height="12" fill="#c0c0c0"/>
<rect x="866" y="611" width="1" height="23" fill="#c0c0c0"/>
<rect x="874" y="611" width="1" height="29" fill="#c0c0c0"/>
<rect x="882" y="611" width="1" height="33" fill="#c0c0c0"/>
<rect x="890" y="611" width="1" height="36" fill="#c0c0c0"/>
<rect x="898" y="611" width="1" height="35" fill="#c0c0c0"/>
<rect x="906" y="611" width="1" height="32" fill="#c0c0c0"/>
<rect x="914" y="611" width="1" height="27" fill="#c0c0c0"/>
<rect x="922" y="611" width="1" height="26" fill="#c0c0c0"/>
<rect x="930" y="611" width="1" height="26" fill="#c0c0c0"/>
<rect x="938" y="611" width="1" height="25" fill="#c0c0c0"/>
<rect x="946" y="611" width="1" height="26" fill="#c0c0c0"/>
<rect x="954" y="611" width="1" height="37" fill="#c0c0c0"/>
<rect x="962" y="611" width="1" height="44" fill="#c0c0c0"/>
<rect x="970" y="611" width="1" height="50" fill="#c0c0c0"/>
<rect x="978" y="611" width="1" height="50" fill="#c0c0c0"/>
<rect x="986" y="611" width="1" height="47" fill="#c0c0c0"/>
<rect x="994" y="611" width="1" height="46" fill="#c0c0c0"/>
<rect x="1002" y="611" width="1" height="44" fill="#c0c0c0"/>
<rect x="1010" y="611" width="1" height="40" fill="#c0c0c0"/>
<rect x="1018" y="611" width="1" height="36" fill="#c0c0c0"/>
<rect x="1026" y="611" width="1" height="34" fill="#c0c0c0"/>
<rect x="1034" y="611" width="1" height="29" fill="#c0c0c0"/>
<rect x="1042" y="611" width="1" height="22" fill="#c0c0c0"/>
<rect x="1050" y="611" width="1" height="13" fill="#c0c0c0"/>
<rect x="1058" y="611" width="1" height="6" fill="#c0c0c0"/>
<rect x="1066" y="611" width="1" height="1" fill="#c0c0c0"/>
<rect x="1082" y="605" width="1" height="6" fill="#c0c0c0"/>
<rect x="1090" y="599" width="1" height="12" fill="#c0c0c0"/>
<rect x="1098" y="597" width="1" height="14" fill="#c0c0c0"/>
<rect x="1106" y="586" width="1" height="25" fill="#c0c0c0"/>
<rect x="1114" y="580" width="1" height="31" fill="#c0c0c0"/>
<rect x="1122" y="577" width="1" height="34" fill="#c0c0c0"/>
<rect x="1130" y="573" width="1" height="38" fill="#c0c0c0"/>
<rect x="1138" y="574" width="1" height="37" fill="#c0c0c0"/>
<rect x="1146" y="572" width="1" height="39" fill="#c0c0c0"/>
<rect x="1154" y="574" width="1" height="37" fill="#c0c0c0"/>
<rect x="1162" y="576" width="1" height="35" fill="#c0c0c0"/>
<rect x="1170" y="579" width="1" height="32" fill="#c0c0c0"/>
<rect x="1178" y="578" width="1" height="33" fill="#c0c0c0"/>
<rect x="1186" y="577" width="1" height="34" fill="#c0c0c0"/>
<rect x="1194" y="577" width="1" height="34" fill="#c0c0c0"/>
<rect x="1202" y="578" width="1" height="33" fill="#c0c0c0"/>
<rect x="1210" y="580" width="1" height="31" fill="#c0c0c0"/>
<rect x="1218" y="582" width="1" height="29" fill="#c0c0c0"/>
<rect x="1226" y="588" width="1" height="23" fill="#c0c0c0"/>
<rect x="1234" y="597" width="1" height="14" fill="#c0c0c0"/>
<rect x="1242" y="600" width="1" height="11" fill="#c0c0c0"/>
<rect x="1250" y="601" width="1" height="10" fill="#c0c0c0"/>
<rect x="1258" y="602" width="1" height="9" fill="#c0c0c0"/>
<rect x="1266" y="601" width="1" height="10" fill="#c0c0c0"/>
<rect x="1274" y="601" width="1" height="10" fill="#c0c0c0"/>
<rect x="1282" y="601" width="1" height="10" fill="#c0c0c0"/>
<rect x="1290" y="602" width="1" height="9" fill="#c0c0c0"/>
<rect x="1298" y="603" width="1" height="8" fill="#c0c0c0"/>
<rect x="1306" y="603" width="1" height="8" fill="#c0c0c0"/>
<rect x="1314" y="604" width="1" height="7" fill="#c0c0c0"/>
<rect x="1322" y="605" width="1" height="6" fill="#c0c0c0"/>
<rect x="1330" y="609" width="1" height="2" fill="#c0c0c0"/>
<rect x="1338" y="609" width="1" height="2" fill="#c0c0c0"/>
<rect x="1346" y="608" width="1" height="3" fill="#c0c0c0"/>
<rect x="1354" y="607" width="1" height="4" fill="#c0c0c0"/>
<rect x="1362" y="607" width="1" height="4" fill="#c0c0c0"/>
<rect x="1370" y="607" width="1" height="4" fill="#c0c0c0"/>
<rect x="1378" y="609" width="1" height="2" fill="#c0c0c0"/>
<rect x="1386" y="610" width="1" height="1" fill="#c0c0c0"/>
<rect x="1394" y="610" width="1" height="1" fill="#c0c0c0"/>
<rect x="1402" y="610" width="1" height="1" fill="#c0c0c0"/>
<rect x="1410" y="610" width="1" height="1" fill="#c0c0c0"/>
<rect x="1418" y="607" width="1" height="4" fill="#c0c0c0"/>
<rect x="1426" y="604" width="1" height="7" fill="#c0c0c0"/>
<rect x="1434" y="598" width="1" height="13" fill="#c0c0c0"/>
<rect x="1442" y="595" width="1" height="16" fill="#c0c0c0"/>
<rect x="1450" y="588" width="1" height="23" fill="#c0c0c0"/>
<rect x="1458" y="582" width="1" height="29" fill="#c0c0c0"/>
<rect x="1466" y="581" width="1" height="30" fill="#c0c0c0"/>
<rect x="1474" y="579" width="1" height="32" fill="#c0c0c0"/>
<rect x="1482" y="574" width="1" height="37" fill="#c0c0c0"/>
<rect x="1490" y="571" width="1" height="40" fill="#c0c0c0"/>
<rect x="1498" y="569" width="1" height="42" fill="#c0c0c0"/>
<rect x="1506" y="570" width="1" height="41" fill="#c0c0c0"/>
<rect x="1514" y="570" width="1" height="41" fill="#c0c0c0"/>
<rect x="1522" y="569" width="1" height="42" fill="#c0c0c0"/>
<rect x="1530" y="565" width="1" height="46" fill="#c0c0c0"/>
<rect x="1538" y="561" width="1" height="50" fill="#c0c0c0"/>
<rect x="1546" y="559" width="1" height="52" fill="#c0c0c0"/>
<rect x="1554" y="558" width="1" height="53" fill="#c0c0c0"/>
<rect x="1562" y="557" width="1" height="54" fill="#c0c0c0"/>
<rect x="1570" y="554" width="1" height="57" fill="#c0c0c0"/>
<rect x="1578" y="557" width="1" height="54" fill="#c0c0c0"/>
<rect x="1586" y="560" width="1" height="51" fill="#c0c0c0"/>
<rect x="1594" y="565" width="1" height="46" fill="#c0c0c0"/>
<rect x="1602" y="568" width="1" height="43" fill="#c0c0c0"/>
<rect x="1610" y="570" width="1" height="41" fill="#c0c0c0"/>
<rect x="1618" y="575" width="1" height="36" fill="#c0c0c0"/>
<rect x="1626" y="579" width="1" height="32" fill="#c0c0c0"/>
<rect x="1634" y="581" width="1" height="30" fill="#c0c0c0"/>
<rect x="1642" y="582" width="1" height="29" fill="#c0c0c0"/>
<rect x="1650" y="583" width="1" height="28" fill="#c0c0c0"/>
<rect x="1658" y="585" width="1" height="26" fill="#c0c0c0"/>
<polyline points="2.0,601.8 17.9,596.8 26.0,595.4 33.5,594.4 39.5,595.4 45.5,596.3 51.5,598.0 57.5,600.5 63.5,601.5 69.5,603.5 75.5,605.5 82.1,608.0 98.2,610.5 114.3,612.3 130.4,611.9 146.4,610.1 162.5,606.9 178.6,603.4 194.6,596.8 210.7,590.1 218.5,585.6 232.4,579.4 248.7,570.1 265.1,560.3 281.4,554.2 297.8,551.3 314.1,554.5 330.5,561.9 346.8,570.1 363.2,576.3 379.5,579.4 395.9,579.4 412.2,581.5 428.6,586.4 436.0,589.5 448.4,595.4 464.7,604.4 476.2,611.0 489.2,614.7 505.6,618.3 530.1,620.0 562.8,621.3 579.2,623.2 595.5,626.8 611.9,632.2 628.2,638.7 636.4,642.0 652.0,644.5 664.4,642.8 680.7,638.7 697.1,631.7 713.4,625.2 729.8,616.7 746.1,608.2 762.5,600.3 778.8,593.0 795.2,588.5 811.5,586.4 827.9,588.1 844.2,593.0 860.6,602.0 868.0,606.0 881.4,615.1 898.7,627.2 916.1,636.8 924.8,639.7 950.8,641.5 964.7,642.5 976.8,645.5 994.2,649.8 1011.6,654.1 1028.9,654.7 1037.6,652.4 1055.0,642.8 1072.3,632.8 1084.0,625.5 1097.4,616.8 1114.7,603.8 1132.1,591.6 1149.4,583.0 1166.8,577.7 1177.2,575.5 1201.5,575.5 1218.9,577.7 1236.3,582.1 1253.6,586.4 1271.0,592.5 1288.3,597.7 1300.0,600.3 1313.4,601.5 1330.7,602.0 1348.1,604.7 1365.4,605.5 1382.8,606.9 1400.2,608.1 1417.5,608.5 1434.9,606.4 1452.3,603.3 1460.9,599.4 1469.6,595.1 1487.0,587.3 1503.0,579.5 1517.4,574.8 1534.7,570.3 1552.1,565.6 1569.4,561.3 1586.8,559.5 1593.8,558.3 1604.2,559.5 1621.5,563.0 1638.9,568.5 1658.0,575.5" fill="none" stroke="#ff0000" stroke-width="1" stroke-dasharray="3,3"/>
</svg>
<text x="6" y="541" textLength="117" lengthAdjust="spacingAndGlyphs" stroke="#000">MACD(12,26,9) 4.883 6.558</text>
<rect x="1683" y="531" width="2" height="1" fill="#000"/>
<rect x="1683" y="610" width="2" height="1" fill="#000"/>
<rect x="1683" y="667" width="2" height="1" fill="#000"/>
<text x="1686.3" y="539.6" textLength="28.4" lengthAdjust="spacingAndGlyphs" stroke="#000">15.105</text>
<text x="1686" y="614" textLength="18.2" lengthAdjust="spacingAndGlyphs" stroke="#000">0.00</text>
<text x="1686" y="665" textLength="31.6" lengthAdjust="spacingAndGlyphs" stroke="#000">-10.963</text>
<rect x="1" y="670" width="1682" height="1" fill="#000"/>
<rect x="1" y="772" width="1682" height="1" fill="#000"/>
<rect x="1" y="670" width="1" height="103" fill="#000"/>
<rect x="1682" y="670" width="1" height="103" fill="#000"/>
<svg x="2" y="671" width="1680" height="101" viewBox="2 671 1680 101" overflow="hidden">
<line x1="3" y1="701.5" x2="1682" y2="701.5" stroke="#c0c0c0" stroke-width="1" stroke-dasharray="3,3"/>
<line x1="3" y1="741.5" x2="1682" y2="741.5" stroke="#c0c0c0" stroke-width="1" stroke-dasharray="3,3"/>
<polyline points="2.0,722.2 10.0,721.4 18.0,720.5 26.0,720.5 34.0,724.8 42.0,729.2 50.0,729.5 58.0,728.3 66.0,725.3 74.0,721.4 82.0,721.4 90.0,718.4 98.0,723.1 106.0,723.4 114.0,723.4 122.0,724.5 130.0,716.7 138.0,712.7 146.0,707.5 154.0,707.5 162.0,713.2 170.0,712.2 178.0,711.3 186.0,699.3 194.0,700.5 202.0,700.5 210.0,701.4 218.0,698.3 226.0,705.2 234.0,697.4 242.0,701.8 250.0,696.6 258.0,695.3 266.0,695.3 274.0,694.5 282.0,720.1 290.0,722.1 298.0,720.4 306.0,718.6 314.0,722.0 322.0,719.4 330.0,716.5 338.0,713.4 346.0,713.0 354.0,711.6 362.0,711.3 370.0,710.2 378.0,714.2 386.0,712.1 394.0,714.2 402.0,720.3 410.0,725.1 418.0,725.5 426.0,733.3 434.0,732.1 442.0,731.2 450.0,730.3 458.0,721.5 466.0,726.4 474.0,725.1 482.0,721.5 490.0,725.1 498.0,727.2 506.0,728.4 514.0,727.2 522.0,726.4 530.0,727.2 538.0,729.3 546.0,719.4 554.0,723.8 562.0,727.6 570.0,737.3 578.0,738.5 586.0,737.4 594.0,740.2 602.0,740.6 610.0,744.2 618.0,744.2 626.0,729.3 634.0,731.0 642.0,726.9 650.0,722.9 658.0,721.2 666.0,718.6 674.0,722.0 682.0,720.6 690.0,722.4 698.0,722.4 706.0,712.5 714.0,709.5 722.0,713.4 730.0,707.3 738.0,708.5 746.0,707.3 754.0,714.2 762.0,709.5 770.0,710.7 778.0,709.5 786.0,711.6 794.0,716.0 802.0,712.5 810.0,723.4 818.0,724.6 826.0,726.4 834.0,727.6 842.0,731.0 850.0,729.8 858.0,743.2 866.0,744.6 874.0,741.4 882.0,738.6 890.0,738.5 898.0,732.4 906.0,725.8 914.0,724.3 922.0,727.2 930.0,730.3 938.0,729.3 946.0,732.1 954.0,746.0 962.0,741.1 970.0,742.5 978.0,735.0 986.0,730.3 994.0,732.4 1002.0,732.4 1010.0,726.4 1018.0,727.2 1026.0,728.6 1034.0,722.4 1042.0,718.2 1050.0,713.4 1058.0,713.4 1066.0,715.4 1074.0,714.2 1082.0,712.0 1090.0,708.5 1098.0,714.2 1106.0,703.3 1114.0,706.4 1122.0,709.5 1130.0,707.3 1138.0,714.2 1146.0,710.7 1154.0,715.4 1162.0,716.5 1170.0,717.2 1178.0,712.5 1186.0,711.3 1194.0,713.4 1202.0,714.6 1210.0,714.6 1218.0,717.2 1226.0,724.6 1234.0,730.3 1242.0,723.4 1250.0,719.4 1258.0,721.5 1266.0,718.6 1274.0,719.4 1282.0,718.6 1290.0,721.5 1298.0,720.3 1306.0,720.3 1314.0,720.3 1322.0,722.0 1330.0,729.3 1338.0,720.6 1346.0,717.2 1354.0,719.4 1362.0,720.6 1370.0,719.4 1378.0,725.5 1386.0,724.6 1394.0,722.4 1402.0,723.4 1410.0,720.6 1418.0,714.7 1426.0,712.0 1434.0,705.5 1442.0,707.3 1450.0,701.6 1458.0,700.3 1466.0,708.5 1474.0,707.1 1482.0,701.4 1490.0,704.3 1498.0,704.3 1506.0,709.3 1514.0,706.5 1522.0,705.4 1530.0,700.7 1538.0,698.3 1546.0,700.7 1554.0,701.4 1562.0,699.9 1570.0,695.5 1578.0,709.3 1586.0,711.2 1594.0,714.3 1602.0,713.2 1610.0,711.2 1618.0,718.4 1626.0,717.2 1634.0,715.3 1642.0,713.2 1650.0,713.2 1658.0,716.4" fill="none" stroke="#1e90ff" stroke-width="1" />
</svg>
<text x="6" y="682" textLength="68" lengthAdjust="spacingAndGlyphs" stroke="#000">RSI(14) 55.9319</text>
<rect x="1683" y="671" width="2" height="1" fill="#000"/>
<rect x="1683" y="701" width="2" height="1" fill="#000"/>
<rect x="1683" y="741" width="2" height="1" fill="#000"/>
<rect x="1683" y="771" width="2" height="1" fill="#000"/>
<text x="1686.5" y="681" textLength="15" lengthAdjust="spacingAndGlyphs" stroke="#000">100</text>
<text x="1686.5" y="705" textLength="10" lengthAdjust="spacingAndGlyphs" stroke="#000">70</text>
<text x="1686.5" y="745" textLength="10" lengthAdjust="spacingAndGlyphs" stroke="#000">30</text>
<text x="1686.5" y="769" textLength="5" lengthAdjust="spacingAndGlyphs" stroke="#000">0</text>
<rect x="2" y="773" width="1" height="3" fill="#000"/>
<text x="1.4" y="785" textLength="49.1" lengthAdjust="spacingAndGlyphs" stroke="#000">8 May 2020</text>
<rect x="66" y="773" width="1" height="3" fill="#000"/>
<text x="65.4" y="785" textLength="57.0" lengthAdjust="spacingAndGlyphs" stroke="#000">12 May 00:00</text>
<rect x="130" y="773" width="1" height="3" fill="#000"/>
<text x="129.4" y="785" textLength="57.0" lengthAdjust="spacingAndGlyphs" stroke="#000">13 May 08:00</text>
<rect x="194" y="773" width="1" height="3" fill="#000"/>
<text x="193.4" y="785" textLength="57.0" lengthAdjust="spacingAndGlyphs" stroke="#000">14 May 16:00</text>
<rect x="258" y="773" width="1" height="3" fill="#000"/>
<text x="257.4" y="785" textLength="57.0" lengthAdjust="spacingAndGlyphs" stroke="#000">18 May 00:00</text>
<rect x="322" y="773" width="1" height="3" fill="#000"/>
<text x="321.4" y="785" textLength="57.0" lengthAdjust="spacingAndGlyphs" stroke="#000">19 May 08:00</text>
<rect x="386" y="773" width="1" height="3" fill="#000"/>
<text x="385.4" y="785" textLength="57.0" lengthAdjust="spacingAndGlyphs" stroke="#000">20 May 16:00</text>
<rect x="450" y="773" width="1" height="3" fill="#000"/>
<text x="449.4" y="785" textLength="57.0" lengthAdjust="spacingAndGlyphs" stroke="#000">22 May 00:00</text>
<rect x="514" y="773" width="1" height="3" fill="#000"/>
<text x="513.4" y="785" textLength="57.0" lengthAdjust="spacingAndGlyphs" stroke="#000">25 May 08:00</text>
<rect x="578" y="773" width="1" height="3" fill="#000"/>
<text x="577.4" y="785" textLength="57.0" lengthAdjust="spacingAndGlyphs" stroke="#000">26 May 16:00</text>
<rect x="642" y="773" width="1" height="3" fill="#000"/>
<text x="641.4" y="785" textLength="57.0" lengthAdjust="spacingAndGlyphs" stroke="#000">28 May 00:00</text>
<rect x="706" y="773" width="1" height="3" fill="#000"/>
<text x="705.4" y="785" textLength="57.0" lengthAdjust="spacingAndGlyphs" stroke="#000">29 May 08:00</text>
<rect x="770" y="773" width="1" height="3" fill="#000"/>
<text x="769.4" y="785" textLength="46.9" lengthAdjust="spacingAndGlyphs" stroke="#000">1 Jun 16:00</text>
<rect x="834" y="773" width="1" height="3" fill="#000"/>
<text x="833.4" y="785" textLength="46.9" lengthAdjust="spacingAndGlyphs" stroke="#000">3 Jun 00:00</text>
<rect x="898" y="773" width="1" height="3" fill="#000"/>
<text x="897.4" y="785" textLength="46.9" lengthAdjust="spacingAndGlyphs" stroke="#000">4 Jun 08:00</text>
<rect x="962" y="773" width="1" height="3" fill="#000"/>
<text x="961.4" y="785" textLength="46.9" lengthAdjust="spacingAndGlyphs" stroke="#000">5 Jun 16:00</text>
<rect x="1026" y="773" width="1" height="3" fill="#000"/>
<text x="1025.4" y="785" textLength="46.9" lengthAdjust="spacingAndGlyphs" stroke="#000">9 Jun 00:00</text>
<rect x="1090" y="773" width="1" height="3" fill="#000"/>
<text x="1089.4" y="785" textLength="51.9" lengthAdjust="spacingAndGlyphs" stroke="#000">10 Jun 08:00</text>
<rect x="1154" y="773" width="1" height="3" fill="#000"/>
<text x="1153.4" y="785" textLength="51.2" lengthAdjust="spacingAndGlyphs" stroke="#000">11 Jun 16:00</text>
<rect x="1218" y="773" width="1" height="3" fill="#000"/>
<text x="1217.4" y="785" textLength="51.9" lengthAdjust="spacingAndGlyphs" stroke="#000">15 Jun 00:00</text>
<rect x="1282" y="773" width="1" height="3" fill="#000"/>
<text x="1281.4" y="785" textLength="51.9" lengthAdjust="spacingAndGlyphs" stroke="#000">16 Jun 08:00</text>
<rect x="1346" y="773" width="1" height="3" fill="#000"/>
<text x="1345.4" y="785" textLength="51.9" lengthAdjust="spacingAndGlyphs" stroke="#000">17 Jun 16:00</text>
<rect x="1410" y="773" width="1" height="3" fill="#000"/>
<text x="1409.4" y="785" textLength="51.9" lengthAdjust="spacingAndGlyphs" stroke="#000">19 Jun 00:00</text>
<rect x="1474" y="773" width="1" height="3" fill="#000"/>
<text x="1473.4" y="785" textLength="51.9" lengthAdjust="spacingAndGlyphs" stroke="#000">22 Jun 08:00</text>
<rect x="1538" y="773" width="1" height="3" fill="#000"/>
<text x="1537.4" y="785" textLength="51.9" lengthAdjust="spacingAndGlyphs" stroke="#000">23 Jun 16:00</text>
<rect x="1602" y="773" width="1" height="3" fill="#000"/>
<text x="1601.4" y="785" textLength="51.9" lengthAdjust="spacingAndGlyphs" stroke="#000">25 Jun 00:00</text>
</svg>
</body></html>
